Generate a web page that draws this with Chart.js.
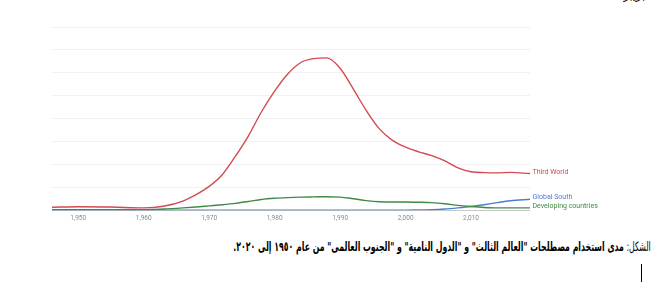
<!DOCTYPE html>
<html>
<head>
<meta charset="utf-8">
<script src="https://cdn.jsdelivr.net/npm/chart.js@4.4.0/dist/chart.umd.min.js"></script>
<style>
  body { margin: 0; background: #fff; width: 660px; height: 300px; overflow: hidden; position: relative; }
  #wrap { position: absolute; left: 0; top: 0; width: 660px; height: 226px; }
  #caption { position: absolute; right: 9px; top: 239px; direction: rtl; font-family: "DejaVu Sans", sans-serif; font-size: 13px; color: #000; white-space: nowrap; transform: scaleX(0.6); transform-origin: right center; }
  #caption b { font-weight: bold; }
  #cursor { position: absolute; left: 641px; top: 264px; width: 1px; height: 18px; background: #000; }
  #topnote { position: absolute; right: 15px; top: -11px; font-family: "DejaVu Sans", sans-serif; font-size: 11px; direction: rtl; }
</style>
</head>
<body>
<div id="topnote">بزيبر</div>
<div id="wrap"><canvas id="myChart"></canvas></div>
<div id="caption">الشكل: <b>مدى استخدام مصطلحات "العالم الثالث" و "الدول النامية" و "الجنوب العالمى" من عام ١٩٥٠ إلى ٢٠٢٠.</b></div>
<div id="cursor"></div>
<script>
// values (grid units, 8 = top line)
let years       = [1946,1950,1955,1960,1963,1966,1968,1970,1972,1974,1976,1978,1980,1982,1984,1986,1988,1990,1992,1994,1996,1998,2000,2002,2004,2006,2008,2010,2012,2014,2016,2019];
let thirdWorld  = [0.13,0.15,0.14,0.10,0.17,0.40,0.68,1.04,1.55,2.35,3.25,4.30,5.20,5.95,6.45,6.62,6.65,6.20,5.30,4.35,3.55,3.05,2.75,2.55,2.38,2.15,1.85,1.68,1.64,1.63,1.65,1.60];
let developing  = [0.02,0.02,0.02,0.02,0.05,0.10,0.14,0.19,0.24,0.30,0.38,0.47,0.52,0.55,0.57,0.58,0.59,0.57,0.50,0.42,0.37,0.36,0.36,0.35,0.33,0.28,0.21,0.16,0.12,0.10,0.10,0.10];
let globalSouth = [0,0,0,0,0,0,0,0,0,0,0,0,0,0,0,0,0,0,0,0,0,0,0,0.01,0.02,0.05,0.10,0.16,0.24,0.33,0.41,0.48];
let xTicks = [1950,1960,1970,1980,1990,2000,2010];
let seriesNames = ['Third World', 'Developing countries', 'Global South'];
let colorHex = ['#d24a4f', '#3f8a45', '#4a7fd0'];

function toPoints(vals) {
  return vals.map((v, i) => ({ x: years[i], y: v }));
}

// labels at the end of each line
const endLabels = {
  id: 'endLabels',
  afterDatasetsDraw(chart) {
    const ctx = chart.ctx;
    ctx.save();
    ctx.font = '7px Roboto';
    ctx.textBaseline = 'middle';
    chart.data.datasets.forEach((ds, i) => {
      const pts = chart.getDatasetMeta(i).data;
      const last = pts[pts.length - 1];
      ctx.fillStyle = ds.borderColor;
      ctx.fillText(ds.label, last.x + 2.5, last.y - 1.5);
    });
    ctx.restore();
  }
};

let ctx = document.getElementById('myChart').getContext('2d');
let myChart = new Chart(ctx, {
  type: 'line',
  data: {
    datasets: [
      { label: seriesNames[0], data: toPoints(thirdWorld), borderColor: colorHex[0] },
      { label: seriesNames[1], data: toPoints(developing), borderColor: colorHex[1] },
      { label: seriesNames[2], data: toPoints(globalSouth), borderColor: colorHex[2] }
    ]
  },
  options: {
    responsive: true,
    maintainAspectRatio: false,
    animation: false,
    layout: { padding: { left: 52, right: 130, top: 27, bottom: 0 } },
    elements: {
      point: { radius: 0 },
      line: { borderWidth: 1.4, tension: 0.4, cubicInterpolationMode: 'monotone' }
    },
    plugins: {
      legend: { display: false },
      tooltip: { enabled: false }
    },
    scales: {
      x: {
        type: 'linear',
        min: 1946,
        max: 2019,
        afterBuildTicks: (axis) => { axis.ticks = xTicks.map(v => ({ value: v })); },
        grid: { display: false, drawTicks: false },
        border: { display: false },
        ticks: { color: '#8a8a8a', font: { size: 6.5, family: 'Roboto' }, padding: 4, maxRotation: 0, autoSkip: false }
      },
      y: {
        min: 0,
        max: 8,
        ticks: { display: false, stepSize: 1 },
        border: { display: false },
        grid: {
          drawTicks: false,
          color: (c) => c.tick.value === 0 ? '#c8c8c8' : '#f1f1f1',
          lineWidth: 1
        }
      }
    }
  },
  plugins: [endLabels]
});
</script>
</body>
</html>
